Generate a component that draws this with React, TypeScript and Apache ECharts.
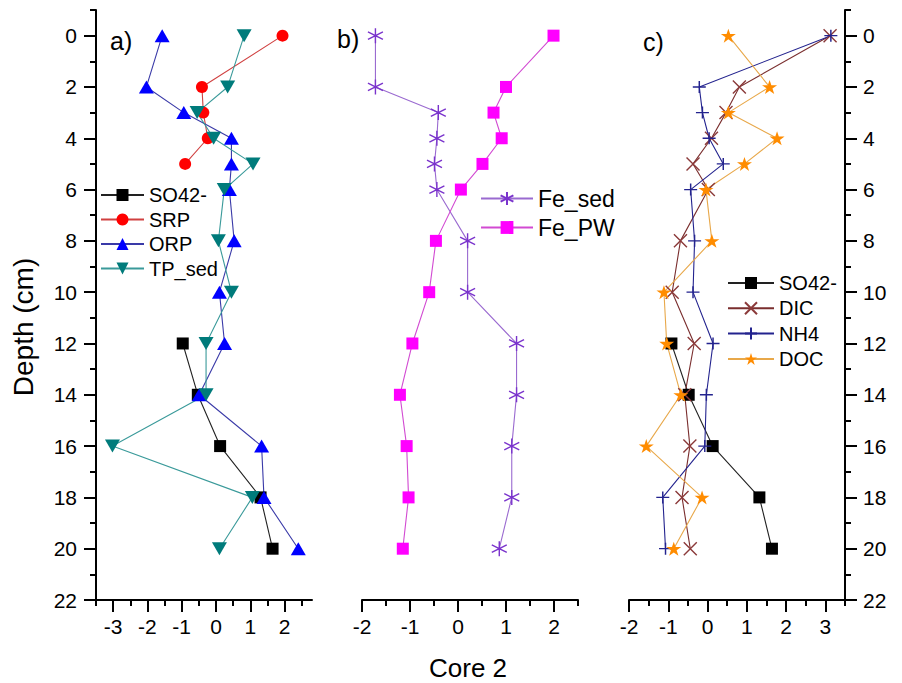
import React, { useEffect, useRef } from 'react';
import * as echarts from 'echarts';

// Sampling depths (cm)
const depths = [0, 2, 3, 4, 5, 6, 8, 10, 12, 14, 16, 18, 20];
const upperDepths = [0, 2, 3, 4, 5];
const lowerDepths = [12, 14, 16, 18, 20];

// Panel a) phosphorus fractions and sulfate
const so4A = [-0.97, -0.53, 0.12, 1.3, 1.65];
const srp = [1.94, -0.41, -0.37, -0.24, -0.9];
const orp = [-1.57, -2.03, -0.94, 0.45, 0.45, 0.39, 0.53, 0.1, 0.25, -0.49, 1.33, 1.4, 2.4];
const tpSed = [0.82, 0.34, -0.55, -0.07, 1.08, 0.24, 0.07, 0.45, -0.29, -0.29, -3.02, 1.06, 0.1];

// Panel b) iron
const feSed = [-1.72, -1.72, -0.41, -0.44, -0.49, -0.44, 0.2, 0.2, 1.22, 1.22, 1.12, 1.12, 0.86];
const fePW = [1.99, 1.0, 0.74, 0.91, 0.51, 0.06, -0.46, -0.6, -0.95, -1.21, -1.07, -1.03, -1.15];

// Panel c) carbon, nitrogen and sulfate
const so4C = [-0.92, -0.48, 0.13, 1.32, 1.64];
const dic = [3.12, 0.81, 0.47, 0.1, -0.37, 0.02, -0.69, -0.9, -0.34, -0.58, -0.45, -0.65, -0.44];
const nh4 = [3.14, -0.21, -0.13, 0.04, 0.4, -0.43, -0.33, -0.37, 0.14, -0.03, -0.07, -1.14, -1.07];
const doc = [0.53, 1.58, 0.53, 1.77, 0.94, -0.04, 0.11, -1.11, -1.04, -0.68, -1.56, -0.14, -0.86];

// Axis ticks
const depthTicks = [0, 2, 4, 6, 8, 10, 12, 14, 16, 18, 20, 22];
const depthMinorTicks = [-1, 1, 3, 5, 7, 9, 11, 13, 15, 17, 19, 21];
const xTicksA = [-3, -2, -1, 0, 1, 2];
const xMinorA = [-3.5, -2.5, -1.5, -0.5, 0.5, 1.5, 2.5];
const xTicksB = [-2, -1, 0, 1, 2];
const xMinorB = [-1.5, -0.5, 0.5, 1.5, 2.5];
const xTicksC = [-2, -1, 0, 1, 2, 3];
const xMinorC = [-1.5, -0.5, 0.5, 1.5, 2.5, 3.5];

const FONT = '"Liberation Sans", Arial, Helvetica, sans-serif';

const ASTERISK = 'path://M0,-10L0,10M-8.66,-5L8.66,5M-8.66,5L8.66,-5';
const CROSS = 'path://M-10,-10L10,10M-10,10L10,-10';
const PLUS = 'path://M-10,0L10,0M0,-10L0,10';
const STAR =
  'path://M0,-100L22.45,-30.9L95.1,-30.9L36.3,11.8L58.8,80.9L0,38.2L-58.8,80.9L-36.3,11.8L-95.1,-30.9L-22.45,-30.9Z';

const pairs = (xs: number[], ds: number[]) => xs.map((x, i) => [x, ds[i]]);

type SeriesOpts = {
  name: string;
  data: number[][];
  axis: number;
  symbol: string;
  size: number | number[];
  marker: string;
  line: string;
  stroked?: boolean;
  rotate?: number;
};

const makeSeries = (o: SeriesOpts) => ({
  type: 'line',
  name: o.name,
  data: o.data,
  xAxisIndex: o.axis,
  yAxisIndex: o.axis,
  symbol: o.symbol,
  symbolSize: o.size,
  symbolRotate: o.rotate || 0,
  showAllSymbol: true,
  clip: false,
  silent: true,
  lineStyle: { color: o.line, width: 1.1 },
  itemStyle: o.stroked
    ? { color: 'rgba(0,0,0,0)', borderColor: o.marker, borderWidth: 1.4 }
    : { color: o.marker, borderWidth: 0 },
});

const axisLine = { show: true, onZero: false, lineStyle: { color: '#000', width: 2 } };
const noSplit = { show: false };

const xMain = (gridIndex: number, min: number, max: number, ticks: number[]) => ({
  type: 'value',
  gridIndex,
  min,
  max,
  position: 'bottom',
  axisLine,
  axisTick: { show: true, inside: false, length: 12, lineStyle: { color: '#000', width: 2 }, customValues: ticks },
  axisLabel: { show: true, customValues: ticks, margin: 16, fontSize: 21, color: '#000', fontFamily: FONT },
  splitLine: noSplit,
});

const xMinor = (gridIndex: number, min: number, max: number, ticks: number[]) => ({
  type: 'value',
  gridIndex,
  min,
  max,
  position: 'bottom',
  axisLine: { show: false, onZero: false },
  axisTick: { show: true, inside: false, length: 6, lineStyle: { color: '#000', width: 2 }, customValues: ticks },
  axisLabel: { show: false },
  splitLine: noSplit,
});

const yMain = (gridIndex: number, position: string) => ({
  type: 'value',
  gridIndex,
  min: -1,
  max: 22,
  inverse: true,
  position,
  axisLine,
  axisTick: { show: true, inside: false, length: 12, lineStyle: { color: '#000', width: 2 }, customValues: depthTicks },
  axisLabel: {
    show: true,
    customValues: depthTicks,
    margin: position === 'left' ? 19 : 18,
    fontSize: 21,
    color: '#000',
    fontFamily: FONT,
  },
  splitLine: noSplit,
});

const yMinor = (gridIndex: number, position: string) => ({
  type: 'value',
  gridIndex,
  min: -1,
  max: 22,
  inverse: true,
  position,
  axisLine: { show: false, onZero: false },
  axisTick: { show: true, inside: false, length: 6, lineStyle: { color: '#000', width: 2 }, customValues: depthMinorTicks },
  axisLabel: { show: false },
  splitLine: noSplit,
});

const yHidden = (gridIndex: number) => ({
  type: 'value',
  gridIndex,
  min: -1,
  max: 22,
  inverse: true,
  show: false,
  axisLine: { show: false, onZero: false },
  splitLine: noSplit,
});

const gridRect = (left: number) => ({ left, top: 10, width: 216, height: 590, containLabel: false });

const legendBase = (left: number, top: number, names: string[], w: number, h: number, gap: number, fs: number) => ({
  show: true,
  orient: 'vertical',
  left,
  top,
  padding: 0,
  itemWidth: w,
  itemHeight: h,
  itemGap: gap,
  data: names,
  selectedMode: false,
  textStyle: { fontSize: fs, color: '#000', fontFamily: FONT },
});

export default function App() {
  const ref = useRef<HTMLDivElement>(null);

  useEffect(() => {
    if (!ref.current) return;
    const chart = echarts.init(ref.current, undefined, { renderer: 'svg' });

    const series = [
      // a)
      makeSeries({ name: 'SO42-', data: pairs(so4A, lowerDepths), axis: 0, symbol: 'rect', size: 12, marker: '#000000', line: '#222222' }),
      makeSeries({ name: 'SRP', data: pairs(srp, upperDepths), axis: 0, symbol: 'circle', size: 12, marker: '#ff0000', line: '#d04040' }),
      makeSeries({ name: 'ORP', data: pairs(orp, depths), axis: 0, symbol: 'triangle', size: [15, 13], marker: '#0000ff', line: '#3a3aa8' }),
      makeSeries({ name: 'TP_sed', data: pairs(tpSed, depths), axis: 0, symbol: 'triangle', size: [15, 13], rotate: 180, marker: '#007b7b', line: '#3a9a9a' }),
      // b)
      makeSeries({ name: 'Fe_sed', data: pairs(feSed, depths), axis: 1, symbol: ASTERISK, size: 15, marker: '#7a33cc', line: '#9a6ad0', stroked: true }),
      makeSeries({ name: 'Fe_PW', data: pairs(fePW, depths), axis: 1, symbol: 'rect', size: 12, marker: '#ff00ff', line: '#d24ad2' }),
      // c)
      makeSeries({ name: 'SO42-', data: pairs(so4C, lowerDepths), axis: 2, symbol: 'rect', size: 12, marker: '#000000', line: '#222222' }),
      makeSeries({ name: 'DIC', data: pairs(dic, depths), axis: 2, symbol: CROSS, size: 13, marker: '#8b3a3a', line: '#7a2e2e', stroked: true }),
      makeSeries({ name: 'NH4', data: pairs(nh4, depths), axis: 2, symbol: PLUS, size: [13, 12], marker: '#23238e', line: '#23238e', stroked: true }),
      makeSeries({ name: 'DOC', data: pairs(doc, depths), axis: 2, symbol: STAR, size: [15, 14], marker: '#ff8c00', line: '#e8a84a' }),
    ];

    chart.setOption({
      animation: false,
      backgroundColor: '#ffffff',
      textStyle: { fontFamily: FONT },
      grid: [gridRect(96), gridRect(362), gridRect(629), gridRect(96), gridRect(362), gridRect(629)],
      xAxis: [
        xMain(0, -3.5, 2.8, xTicksA),
        xMain(1, -2, 2.5, xTicksB),
        xMain(2, -2, 3.5, xTicksC),
        xMinor(3, -3.5, 2.8, xMinorA),
        xMinor(4, -2, 2.5, xMinorB),
        xMinor(5, -2, 3.5, xMinorC),
      ],
      yAxis: [
        yMain(0, 'left'),
        yHidden(1),
        yMain(2, 'right'),
        yMinor(3, 'left'),
        yHidden(4),
        yMinor(5, 'right'),
      ],
      legend: [
        legendBase(100, 185, ['SO42-', 'SRP', 'ORP', 'TP_sed'], 43, 15, 4.5, 20),
        legendBase(480, 187, ['Fe_sed', 'Fe_PW'], 52, 16, 6, 23),
        legendBase(727, 273, ['SO42-', 'DIC', 'NH4', 'DOC'], 46, 15, 5.3, 20),
      ],
      graphic: [
        { type: 'text', x: 110, y: 41, style: { text: 'a)', fill: '#000', font: `25px ${FONT}`, textVerticalAlign: 'middle' } },
        { type: 'text', x: 337, y: 39, style: { text: 'b)', fill: '#000', font: `25px ${FONT}`, textVerticalAlign: 'middle' } },
        { type: 'text', x: 643, y: 42, style: { text: 'c)', fill: '#000', font: `25px ${FONT}`, textVerticalAlign: 'middle' } },
        {
          type: 'text',
          x: 23,
          y: 327,
          rotation: Math.PI / 2,
          style: { text: 'Depth (cm)', font: `28px ${FONT}`, fill: '#000', textAlign: 'center', textVerticalAlign: 'middle' },
        },
        {
          type: 'text',
          x: 468,
          y: 668,
          style: { text: 'Core 2', font: `26px ${FONT}`, fill: '#000', textAlign: 'center', textVerticalAlign: 'middle' },
        },
      ],
      series,
    });

    return () => chart.dispose();
  }, []);

  return (
    <div
      ref={ref}
      style={{ position: 'absolute', left: 0, top: 0, width: 902, height: 683, background: '#fff' }}
    />
  );
}
